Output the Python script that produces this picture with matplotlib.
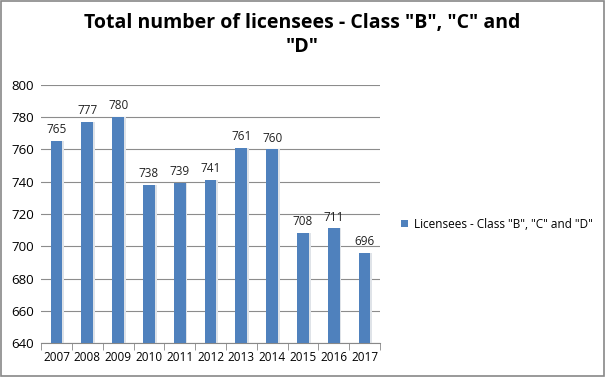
import matplotlib.pyplot as plt
import numpy as np

# chart data
years = ["2007", "2008", "2009", "2010", "2011", "2012",
         "2013", "2014", "2015", "2016", "2017"]
licensees = [765, 777, 780, 738, 739, 741, 761, 760, 708, 711, 696]
series_name = 'Licensees - Class "B", "C" and "D"'
title = 'Total number of licensees - Class "B", "C" and\n"D"'

plt.rcParams['font.family'] = ['Open Sans', 'DejaVu Sans']

fig = plt.figure(figsize=(6.05, 3.77), dpi=100)
ax = fig.add_axes([0.068, 0.09, 0.56, 0.685])

x = np.arange(len(years))
bar_color = "#4f81bd"
width = 0.38

# soft shadow behind the bars
ax.bar(x + 0.06, np.array(licensees) - 640, bottom=640, width=width,
       color="#dfe3e8", zorder=2)
bars = ax.bar(x, np.array(licensees) - 640, bottom=640, width=width,
              color=bar_color, zorder=3, label=series_name)

for xi, v in zip(x, licensees):
    ax.text(xi, v + 3, str(v), ha="center", va="bottom", fontsize=8.5,
            color="#222222", zorder=4)

ax.set_ylim(640, 800)
ax.set_yticks(range(640, 801, 20))
ax.set_xlim(-0.5, len(years) - 0.5)
ax.set_xticks(x)
ax.set_xticklabels(years)
ax.set_xticks(np.arange(-0.5, len(years), 1), minor=True)
ax.tick_params(axis="x", which="major", length=0, labelsize=8.5, pad=6)
ax.tick_params(axis="x", which="minor", length=5, color="#888888")
ax.tick_params(axis="y", length=0, labelsize=9.5, pad=5)
ax.yaxis.grid(True, color="#8c8c8c", linewidth=0.8, zorder=0)
ax.set_axisbelow(True)
for side in ["top", "right", "left"]:
    ax.spines[side].set_visible(False)
ax.spines["bottom"].set_color("#888888")

fig.text(0.5, 0.965, title, ha="center", va="top", fontsize=14,
         fontweight="bold", linespacing=1.25)

fig.legend(handles=[bars], labels=[series_name], loc="center left",
           bbox_to_anchor=(0.645, 0.405), frameon=False, fontsize=8.5,
           handlelength=0.6, handleheight=0.6, handletextpad=0.5)

# grey frame around the chart
fig.patches.append(plt.Rectangle((0.002, 0.003), 0.996, 0.994,
                                 transform=fig.transFigure, fill=False,
                                 edgecolor="#888888", linewidth=1.2))

fig.savefig("out.png", dpi=100)
